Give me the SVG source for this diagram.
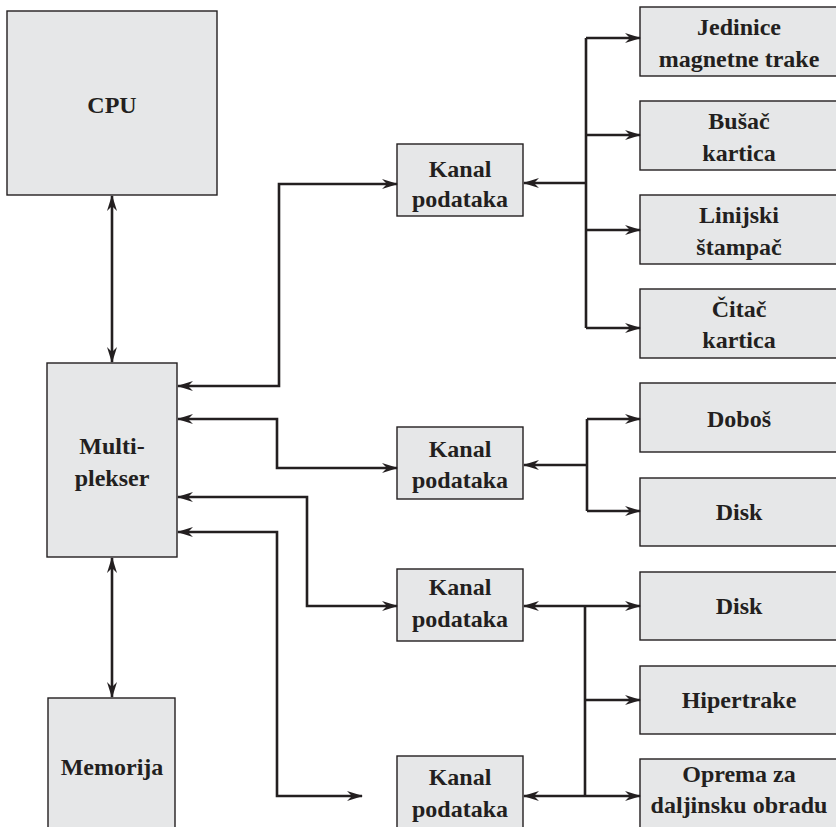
<svg xmlns="http://www.w3.org/2000/svg" width="836" height="827" viewBox="0 0 836 827">
<style>
.box{fill:#e6e7e8;stroke:#231f20;stroke-width:1.4}
text{font-family:'Liberation Serif','Times New Roman',serif;font-weight:bold;font-size:24px;fill:#231f20;text-anchor:middle}
.c{fill:none;stroke:#231f20;stroke-width:2.6;marker-end:url(#ah)}
.d{marker-start:url(#ah)}
.n{fill:none;stroke:#231f20;stroke-width:2.6}
</style>
<defs>
<marker id="ah" viewBox="0 0 16 10" refX="15" refY="5" markerWidth="16" markerHeight="10" markerUnits="userSpaceOnUse" orient="auto-start-reverse">
<path d="M0,0 L16,5 L0,10 L5,5 z" fill="#231f20"/>
</marker>
</defs>
<rect width="836" height="827" fill="#fff"/>
<g id="cpu"><rect class="box" x="7" y="11" width="210" height="184"/><text x="112" y="113">CPU</text></g>
<g id="mux"><rect class="box" x="47" y="363" width="130" height="194"/><text x="112" y="454">Multi-</text><text x="112" y="486">plekser</text></g>
<g id="mem"><rect class="box" x="48" y="698" width="127" height="140"/><text x="112" y="775">Memorija</text></g>
<g id="kanal1"><rect class="box" x="397" y="144" width="126" height="72"/><text x="460" y="177">Kanal</text><text x="460" y="207">podataka</text></g>
<g id="kanal2"><rect class="box" x="397" y="427" width="126" height="72"/><text x="460" y="457">Kanal</text><text x="460" y="488">podataka</text></g>
<g id="kanal3"><rect class="box" x="397" y="569" width="126" height="72"/><text x="460" y="595">Kanal</text><text x="460" y="627">podataka</text></g>
<g id="kanal4"><rect class="box" x="397" y="756" width="126" height="80"/><text x="460" y="785">Kanal</text><text x="460" y="817">podataka</text></g>
<g id="jedinice"><rect class="box" x="640" y="7" width="200" height="69"/><text x="739" y="35">Jedinice</text><text x="739" y="67">magnetne trake</text></g>
<g id="busac"><rect class="box" x="640" y="101" width="200" height="69"/><text x="739" y="129">Bušač</text><text x="739" y="161">kartica</text></g>
<g id="linijski"><rect class="box" x="640" y="195" width="200" height="69"/><text x="739" y="223">Linijski</text><text x="739" y="255">štampač</text></g>
<g id="citac"><rect class="box" x="640" y="289" width="200" height="69"/><text x="739" y="317">Čitač</text><text x="739" y="348">kartica</text></g>
<g id="dobos"><rect class="box" x="640" y="383" width="200" height="69"/><text x="739" y="427">Doboš</text></g>
<g id="disk1"><rect class="box" x="640" y="478" width="200" height="68"/><text x="739" y="520">Disk</text></g>
<g id="disk2"><rect class="box" x="640" y="572" width="200" height="68"/><text x="739" y="614">Disk</text></g>
<g id="hipertrake"><rect class="box" x="640" y="666" width="200" height="68"/><text x="739" y="708">Hipertrake</text></g>
<g id="oprema"><rect class="box" x="640" y="759" width="200" height="80"/><text x="739" y="782">Oprema za</text><text x="739" y="813">daljinsku obradu</text></g>
<g id="connectors">
<path class="c d" d="M112,196 V362"/>
<path class="c d" d="M112,558 V697"/>
<path class="c d" d="M178,386 H279 V184 H397"/>
<path class="c d" d="M178,419 H277 V468 H397"/>
<path class="c d" d="M178,497 H307 V606 H397"/>
<path class="c d" d="M178,532 H277 V796 H362"/>
<path class="c" d="M586,183 H524"/>
<path class="n" d="M586,38 V328"/>
<path class="c" d="M586,38 H640"/>
<path class="c" d="M586,135 H640"/>
<path class="c" d="M586,230 H640"/>
<path class="c" d="M586,328 H640"/>
<path class="c" d="M587,465 H524"/>
<path class="n" d="M587,419 V511"/>
<path class="c" d="M587,419 H640"/>
<path class="c" d="M587,511 H640"/>
<path class="n" d="M585,606 V796"/>
<path class="c d" d="M524,606 H640"/>
<path class="c" d="M585,700 H640"/>
<path class="c d" d="M524,796 H640"/>
</g>
</svg>
